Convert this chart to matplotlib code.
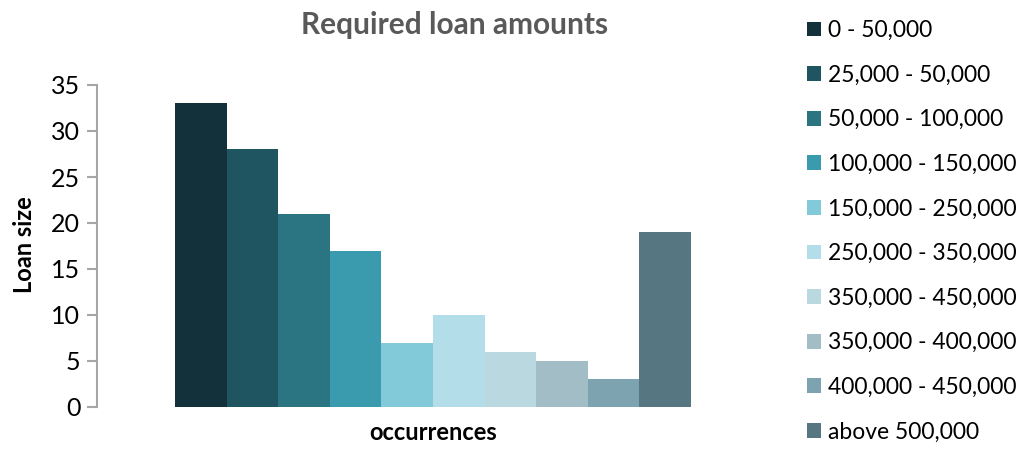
import matplotlib
matplotlib.use("Agg")
import matplotlib.pyplot as plt
from matplotlib.patches import Patch

categories = ["0 - 50,000", "25,000 - 50,000", "50,000 - 100,000", "100,000 - 150,000",
              "150,000 - 250,000", "250,000 - 350,000", "350,000 - 450,000",
              "350,000 - 400,000", "400,000 - 450,000", "above 500,000"]
values = [33, 28, 21, 17, 7, 10, 6, 5, 3, 19]
colors = ["#12313B", "#1F5561", "#2B7582", "#3A9AAE", "#82CADA",
          "#B2DDE9", "#B9D8E0", "#A2BDC6", "#7EA3B0", "#567682"]
yticks = [0, 5, 10, 15, 20, 25, 30, 35]

plt.rcParams['font.family'] = ['Lato', 'DejaVu Sans']

fig = plt.figure(figsize=(10.28, 4.51), dpi=100)
ax = fig.add_axes([97/1028, 1-407/451, (769-97)/1028, (407-85)/451])

n = len(values)
group = 0.768
w = group / n
for i, (v, c, lab) in enumerate(zip(values, colors, categories)):
    ax.bar(-group/2 + w*(i+0.5), v, width=w, color=c, label=lab, linewidth=0)

ax.set_xlim(-0.5, 0.5)
ax.set_ylim(0, 35)
ax.set_yticks(yticks)
ax.set_xticks([])
for s in ["top", "right", "bottom"]:
    ax.spines[s].set_visible(False)
ax.spines["left"].set_color("#A6A6A6")
ax.spines["left"].set_linewidth(1.5)
ax.tick_params(axis="y", direction="out", length=7, width=1.5, color="#A6A6A6",
               labelsize=18, pad=5, labelcolor="black")

fig.text(25/1028, 1-245/451, "Loan size", rotation=90, ha="center", va="center",
         fontsize=17, fontweight="bold")
fig.text(433/1028, 1-432/451, "occurrences", ha="center", va="center",
         fontsize=17, fontweight="bold")
fig.text(455/1028, 1-25/451, "Required loan amounts", ha="center", va="center",
         fontsize=21.5, fontweight="bold", color="#595959")

handles = [Patch(facecolor=c, edgecolor="none", label=l) for c, l in zip(colors, categories)]
fig.legend(handles=handles, loc="upper left", bbox_to_anchor=(807/1028, 1-20/451),
           frameon=False, fontsize=16.5, handlelength=0.62, handleheight=0.62,
           handletextpad=0.3, labelspacing=1.03, borderaxespad=0, borderpad=0)

fig.savefig("out.png", dpi=100)
